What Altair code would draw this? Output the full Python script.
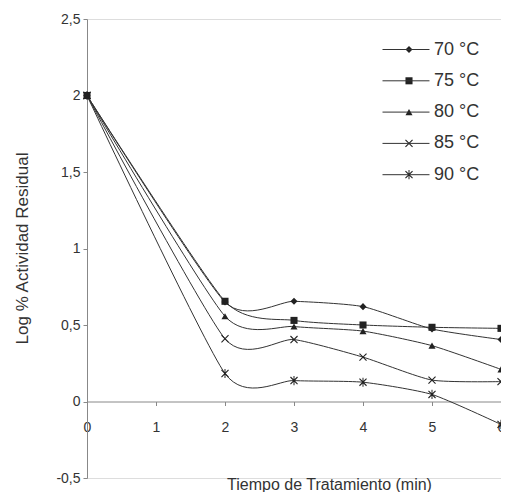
import altair as alt
import pandas as pd

tiempo = [0, 2, 3, 4, 5, 6]
series = ["70 °C", "75 °C", "80 °C", "85 °C", "90 °C"]
v70 = [2.0, 0.65, 0.655, 0.62, 0.474, 0.405]
v75 = [2.0, 0.655, 0.53, 0.50, 0.485, 0.478]
v80 = [2.0, 0.557, 0.49, 0.46, 0.365, 0.21]
v85 = [2.0, 0.41, 0.405, 0.29, 0.14, 0.13]
v90 = [2.0, 0.183, 0.137, 0.126, 0.046, -0.15]
y_ticks = [-0.5, 0, 0.5, 1, 1.5, 2, 2.5]
x_ticks = [0, 1, 2, 3, 4, 5, 6]

rows = []
for s, vals in zip(series, [v70, v75, v80, v85, v90]):
    for t, v in zip(tiempo, vals):
        rows.append({"Tiempo": t, "Valor": v, "Serie": s, "Temp": s})
df = pd.DataFrame(rows)

FONT = "Liberation Sans"
TXT = "#333333"

x = alt.X("Tiempo:Q",
          scale=alt.Scale(domain=[0, 6], nice=False, zero=False),
          axis=alt.Axis(values=x_ticks, title="Tiempo de Tratamiento (min)",
                        offset=-76.5, grid=False, domainColor="#888888",
                        tickColor="#888888", tickSize=4, labelPadding=15,
                        labelFont=FONT, labelFontSize=14, labelColor=TXT,
                        titleFont=FONT, titleFontSize=16, titleFontWeight="normal",
                        titleColor=TXT, titleX=242, titleY=83,
                        titleBaseline="middle", labelFlush=False))
y = alt.Y("Valor:Q",
          scale=alt.Scale(domain=[-0.5, 2.5], nice=False, zero=False),
          axis=alt.Axis(values=y_ticks, title="Log % Actividad Residual",
                        labelExpr="replace(datum.value + '', '.', ',')",
                        grid=False, domainColor="#888888", tickColor="#888888",
                        tickSize=4, labelPadding=3, labelFont=FONT,
                        labelFontSize=14, labelColor=TXT, titleFont=FONT,
                        titleFontSize=17, titleFontWeight="normal",
                        titleColor=TXT, titleX=-65, titleY=229,
                        titleBaseline="middle"))

LEG_Y = 21.5
ROWPAD = 13.3
lines = alt.Chart(df).mark_line(interpolate="cardinal", tension=0.4, strokeWidth=1).encode(
    x=x, y=y,
    color=alt.Color("Serie:N", sort=series,
                    scale=alt.Scale(domain=series, range=["#333333"] * 5),
                    legend=alt.Legend(title=None, orient="none", legendX=310, legendY=LEG_Y,
                                      symbolType="M-4,0L4,0", symbolSize=138,
                                      symbolStrokeWidth=1, labelExpr="''",
                                      labelFontSize=18, labelFont=FONT,
                                      rowPadding=ROWPAD, padding=0, labelOffset=16)),
)

# filled glyph paths: thin "x" and asterisk drawn as filled bars
x_path = ("M-0.89,-1.11L1.11,0.89L0.89,1.11L-1.11,-0.89Z"
          "M-1.11,0.89L0.89,-1.11L1.11,-0.89L-0.89,1.11Z")
ast_path = x_path + "M-0.14,-1.3L0.14,-1.3L0.14,1.3L-0.14,1.3Z"
shapes = ["diamond", "square", "triangle-up", x_path, ast_path]

points = alt.Chart(df).mark_point(size=50, filled=True, color="#222222", opacity=1).encode(
    x=x, y=y,
    shape=alt.Shape("Temp:N", sort=series,
                    scale=alt.Scale(domain=series, range=shapes),
                    legend=alt.Legend(title=None, orient="none", legendX=313, legendY=LEG_Y,
                                      symbolSize=50, symbolFillColor="#222222",
                                      labelFontSize=18, labelFont=FONT, labelColor=TXT,
                                      rowPadding=ROWPAD, padding=0, labelOffset=16)),
)

chart = alt.layer(lines, points).resolve_scale(color="independent").properties(
    width=414, height=459,
    autosize=alt.AutoSizeParams(type="none"),
    padding={"left": 79, "top": 11, "right": 0, "bottom": 14},
).configure_view(stroke=None).configure(background="white")

chart.save("out.html", embed_options={"renderer": "svg", "actions": False})
